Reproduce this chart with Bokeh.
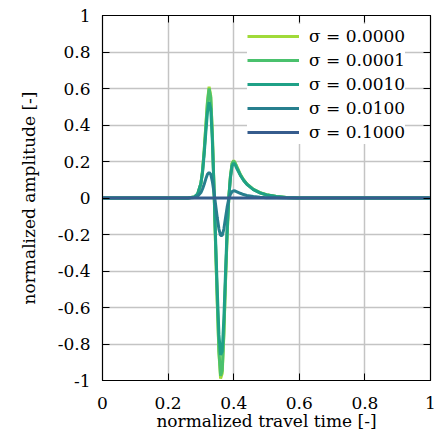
from bokeh.plotting import figure
from bokeh.models import Legend, LegendItem, FixedTicker, LinearAxis
from bokeh.embed import file_html
from bokeh.resources import INLINE

# ---- data ----
travel_time = [0.0, 0.26, 0.28, 0.29, 0.30, 0.305, 0.31, 0.315, 0.32, 0.325, 0.33,
               0.335, 0.34, 0.345, 0.35, 0.355, 0.36, 0.365, 0.37, 0.375, 0.38,
               0.385, 0.39, 0.395, 0.40, 0.405, 0.41, 0.42, 0.43, 0.44, 0.46,
               0.48, 0.50, 0.53, 0.56, 0.60, 1.0]

amp_s00000 = [0.0, 0.0, 0.005, 0.02, 0.08, 0.15, 0.26, 0.40, 0.53, 0.61, 0.56,
              0.35, 0.05, -0.28, -0.58, -0.85, -0.99, -0.96, -0.75, -0.46, -0.20,
              0.0, 0.12, 0.19, 0.205, 0.19, 0.17, 0.13, 0.10, 0.077, 0.047,
              0.029, 0.018, 0.008, 0.003, 0.0, 0.0]

amp_s00001 = [0.0, 0.0, 0.005, 0.02, 0.08, 0.15, 0.26, 0.39, 0.52, 0.60, 0.55,
              0.345, 0.05, -0.275, -0.57, -0.84, -0.975, -0.945, -0.74, -0.455, -0.20,
              0.0, 0.118, 0.188, 0.203, 0.189, 0.168, 0.129, 0.099, 0.077, 0.047,
              0.029, 0.018, 0.008, 0.003, 0.0, 0.0]

amp_s00010 = [0.0, 0.0, 0.006, 0.022, 0.08, 0.14, 0.24, 0.36, 0.47, 0.525, 0.49,
              0.31, 0.05, -0.24, -0.51, -0.75, -0.86, -0.84, -0.66, -0.41, -0.17,
              0.0, 0.11, 0.175, 0.19, 0.18, 0.16, 0.125, 0.097, 0.075, 0.046,
              0.028, 0.017, 0.008, 0.003, 0.0, 0.0]

amp_s01000 = [0.0, 0.0, 0.003, 0.01, 0.03, 0.05, 0.075, 0.105, 0.13, 0.14, 0.13,
              0.09, 0.03, -0.04, -0.11, -0.17, -0.205, -0.205, -0.17, -0.11, -0.05,
              -0.005, 0.02, 0.035, 0.04, 0.038, 0.034, 0.026, 0.019, 0.014, 0.008,
              0.004, 0.002, 0.001, 0.0, 0.0, 0.0]

amp_s10000 = [0.0, 0.0, 0.0, 0.0, 0.0, 0.0, 0.0, 0.0, 0.0, 0.0, 0.0,
              0.0, 0.0, 0.0, 0.0, 0.0, 0.0, 0.0, 0.0, 0.0, 0.0,
              0.0, 0.0, 0.0, 0.0, 0.0, 0.0, 0.0, 0.0, 0.0, 0.0,
              0.0, 0.0, 0.0, 0.0, 0.0, 0.0]

series_labels = ["σ = 0.0000", "σ = 0.0001", "σ = 0.0010", "σ = 0.0100", "σ = 0.1000"]
series_colors = ["#a0da39", "#4ac16d", "#1fa187", "#277f8e", "#365c8d"]
series_values = [amp_s00000, amp_s00001, amp_s00010, amp_s01000, amp_s10000]

x_ticks = [0, 0.2, 0.4, 0.6, 0.8, 1]
x_tick_labels = ["0", "0.2", "0.4", "0.6", "0.8", "1"]
y_ticks = [-1, -0.8, -0.6, -0.4, -0.2, 0, 0.2, 0.4, 0.6, 0.8, 1]
y_tick_labels = ["-1", "-0.8", "-0.6", "-0.4", "-0.2", "0", "0.2", "0.4", "0.6", "0.8", "1"]

FONT = "DejaVu Serif"
FS = "17px"

p = figure(width=436, height=442, x_range=(0, 1), y_range=(-1, 1),
           output_backend="svg", toolbar_location=None,
           min_border_left=102, min_border_right=6, min_border_top=15, min_border_bottom=62,
           x_axis_label="normalized travel time [-]",
           y_axis_label="normalized amplitude [-]")

p.background_fill_color = "white"
p.border_fill_color = "white"
p.outline_line_color = "black"
p.outline_line_width = 1.2

items = []
for lab, col, vals in zip(series_labels, series_colors, series_values):
    r = p.line(travel_time, vals, line_color=col, line_width=3)
    items.append(LegendItem(label=lab, renderers=[r]))

for ax, ticks, labels in ((p.xaxis[0], x_ticks, x_tick_labels), (p.yaxis[0], y_ticks, y_tick_labels)):
    ax.ticker = FixedTicker(ticks=ticks)
    ax.major_label_overrides = dict(zip(ticks, labels))
    ax.major_tick_in = 7
    ax.major_tick_out = 0
    ax.minor_tick_in = 0
    ax.minor_tick_out = 0
    ax.major_tick_line_color = "black"
    ax.axis_line_color = "black"
    ax.major_label_text_font = FONT
    ax.major_label_text_font_size = FS
    ax.major_label_text_color = "black"
    ax.axis_label_text_font = FONT
    ax.axis_label_text_font_size = FS
    ax.axis_label_text_font_style = "normal"
    ax.axis_label_text_color = "black"

p.xaxis.major_label_standoff = 16
p.xaxis.axis_label_standoff = -1
p.yaxis.major_label_standoff = 12
p.yaxis.axis_label_standoff = 16

# mirrored inward ticks on top and right (no labels)
for side, ticks in (("above", x_ticks), ("right", y_ticks)):
    ax = LinearAxis(ticker=FixedTicker(ticks=ticks))
    ax.major_tick_in = 7
    ax.major_tick_out = 0
    ax.minor_tick_in = 0
    ax.minor_tick_out = 0
    ax.major_label_text_font_size = "1px"
    ax.major_label_text_color = None
    ax.major_label_standoff = 0
    ax.axis_line_color = "black"
    ax.major_tick_line_color = "black"
    p.add_layout(ax, side)

for g, ticks in ((p.xgrid[0], x_ticks), (p.ygrid[0], y_ticks)):
    g.ticker = FixedTicker(ticks=ticks)
    g.grid_line_color = "#c4c4c4"
    g.grid_line_width = 1.5

legend = Legend(items=items, location=(145, 236))
legend.label_text_font = FONT
legend.label_text_font_size = FS
legend.label_text_color = "black"
legend.glyph_width = 52
legend.glyph_height = 24
legend.label_height = 24
legend.label_standoff = 10
legend.spacing = 0
legend.padding = 6
legend.margin = 0
legend.border_line_color = None
legend.background_fill_color = "white"
legend.background_fill_alpha = 1.0
p.add_layout(legend, "center")

open("out.html", "w").write(file_html(p, INLINE))
